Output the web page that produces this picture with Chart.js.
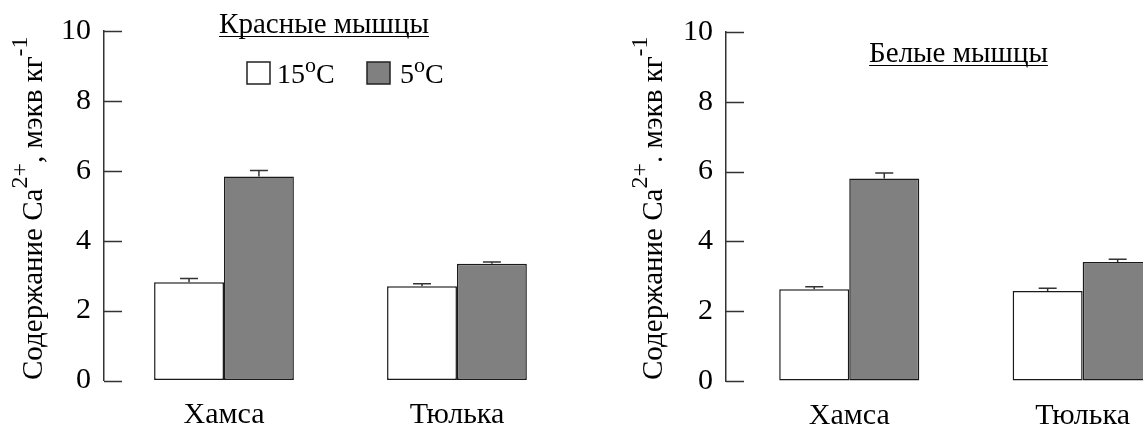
<!DOCTYPE html>
<html>
<head>
<meta charset="utf-8">
<script src="https://cdn.jsdelivr.net/npm/chart.js@4.4.0/dist/chart.umd.min.js"></script>
<style>
  html, body { margin: 0; padding: 0; background: #fff; overflow: hidden; }
  #wrap { position: relative; width: 1143px; height: 426px; overflow: hidden; }
  canvas { position: absolute; top: 0; }
  #redChart { left: 0; }
  #whiteChart { left: 622px; }
</style>
</head>
<body>
<div id="wrap">
  <canvas id="redChart" width="600" height="426"></canvas>
  <canvas id="whiteChart" width="600" height="426"></canvas>
</div>
<script>
var categories = ["Хамса", "Тюлька"];
var seriesNames = ["15", "5"];
var yTicks = [0, 2, 4, 6, 8, 10];

// красные мышцы
var red15 = [2.81, 2.70];
var red5 = [5.84, 3.34];
var red15Err = [0.11, 0.07];
var red5Err = [0.17, 0.05];

// белые мышцы
var white15 = [2.63, 2.58];
var white5 = [5.80, 3.41];
var white15Err = [0.07, 0.08];
var white5Err = [0.16, 0.08];

var FONT = '"Liberation Serif", "Times New Roman", serif';
Chart.defaults.font.family = FONT;
Chart.defaults.color = "#000";

function font(size) {
  return size + "px " + FONT;
}

// pieces: normal, sup, normal, sup ...
function drawSupText(ctx, x, y, pieces, size, supSize, rise) {
  pieces.forEach(function (p, i) {
    var sup = i % 2 === 1;
    ctx.font = font(sup ? supSize : size);
    ctx.fillText(p, x, sup ? y - rise : y);
    x += ctx.measureText(p).width;
  });
  return x;
}

function makeDecor(cfg) {
  return {
    id: "decor",
    afterDraw: function (chart) {
      var ctx = chart.ctx, y = chart.scales.y, area = chart.chartArea;
      ctx.save();
      ctx.lineWidth = 1.5;
      ctx.strokeStyle = "#333";

      // error bars, up only
      chart.data.datasets.forEach(function (ds, di) {
        chart.getDatasetMeta(di).data.forEach(function (bar, i) {
          var top = y.getPixelForValue(ds.data[i].y + ds.errors[i]);
          ctx.beginPath();
          ctx.moveTo(bar.x, bar.y);
          ctx.lineTo(bar.x, top);
          ctx.moveTo(bar.x - 9, top);
          ctx.lineTo(bar.x + 9, top);
          ctx.stroke();
        });
      });

      // inward ticks
      ctx.beginPath();
      y.ticks.forEach(function (t) {
        var py = Math.round(y.getPixelForValue(t.value)) + 0.5;
        var len = yTicks.indexOf(t.value) >= 0 ? 18 : 6;
        ctx.moveTo(area.left, py);
        ctx.lineTo(area.left + len, py);
      });
      ctx.stroke();

      ctx.fillStyle = "#000";
      ctx.textBaseline = "alphabetic";

      // panel title, underlined
      ctx.font = font(29);
      ctx.textAlign = "center";
      ctx.fillText(cfg.title, cfg.titleX, cfg.titleY);
      var w = ctx.measureText(cfg.title).width;
      ctx.strokeStyle = "#000";
      ctx.lineWidth = 1.2;
      ctx.beginPath();
      ctx.moveTo(cfg.titleX - w / 2, cfg.titleY + 3.5);
      ctx.lineTo(cfg.titleX + w / 2, cfg.titleY + 3.5);
      ctx.stroke();
      ctx.textAlign = "left";

      // y axis title, rotated
      ctx.save();
      ctx.translate(cfg.yTitleX, 380);
      ctx.rotate(-Math.PI / 2);
      drawSupText(ctx, 0, 0, cfg.yTitle, 29, 24, 15);
      ctx.restore();

      // legend
      if (cfg.legend) {
        var boxX = [247, 367], textX = [277, 400];
        chart.data.datasets.forEach(function (ds, di) {
          ctx.fillStyle = ds.backgroundColor;
          ctx.strokeStyle = "#222";
          ctx.lineWidth = 1.5;
          ctx.fillRect(boxX[di], 62, 23, 22);
          ctx.strokeRect(boxX[di], 62, 23, 22);
          ctx.fillStyle = "#000";
          drawSupText(ctx, textX[di], 83, [seriesNames[di], "o", "C"], 28, 22, 11);
        });
      }
      ctx.restore();
    }
  };
}

function makeChart(id, v15, v5, e15, e5, cfg) {
  var ctx = document.getElementById(id).getContext("2d");
  return new Chart(ctx, {
    type: "bar",
    data: {
      datasets: [
        {
          label: seriesNames[0],
          data: categories.map(function (c, i) { return { x: i, y: v15[i] }; }),
          errors: e15,
          backgroundColor: "#ffffff"
        },
        {
          label: seriesNames[1],
          data: categories.map(function (c, i) { return { x: i, y: v5[i] }; }),
          errors: e5,
          backgroundColor: "#808080"
        }
      ]
    },
    options: {
      responsive: false,
      animation: false,
      layout: { padding: { top: cfg.top, left: 0, right: 0, bottom: 0 } },
      datasets: {
        bar: {
          categoryPercentage: 0.6,
          barPercentage: 1,
          borderWidth: 1.5,
          borderColor: "#1a1a1a",
          borderSkipped: false
        }
      },
      plugins: {
        legend: { display: false },
        tooltip: { enabled: false }
      },
      scales: {
        x: {
          type: "linear",
          offset: false,
          min: cfg.xMin,
          max: cfg.xMax,
          afterBuildTicks: function (s) {
            s.ticks = categories.map(function (c, i) { return { value: i }; });
          },
          afterFit: function (s) { s.height = cfg.xHeight; },
          grid: { display: false, offset: false },
          border: { display: false },
          ticks: {
            padding: 9,
            font: { size: 30 },
            color: "#000",
            callback: function (v) { return categories[v]; }
          }
        },
        y: {
          min: 0,
          max: 10,
          afterFit: function (s) { s.width = 104; },
          grid: { display: true, drawOnChartArea: false, drawTicks: false },
          border: { display: true, color: "#333", width: 1.5 },
          ticks: {
            stepSize: 1,
            padding: 13,
            font: { size: 30 },
            color: "#000",
            callback: function (v) { return yTicks.indexOf(v) >= 0 ? v : ""; }
          }
        }
      }
    },
    plugins: [makeDecor(cfg)]
  });
}

makeChart("redChart", red15, red5, red15Err, red5Err, {
  top: 30, xHeight: 45.5, xMin: -0.515, xMax: 1.614,
  title: "Красные мышцы", titleX: 324, titleY: 33,
  yTitleX: 42, yTitle: ["Содержание Ca", "2+", ", мэкв кг", "-1"],
  legend: true
});

makeChart("whiteChart", white15, white5, white15Err, white5Err, {
  top: 32, xHeight: 45, xMin: -0.528, xMax: 1.597,
  title: "Белые мышцы", titleX: 336.5, titleY: 62,
  yTitleX: 40, yTitle: ["Содержание Ca", "2+", ". мэкв кг", "-1"],
  legend: false
});
</script>
</body>
</html>
